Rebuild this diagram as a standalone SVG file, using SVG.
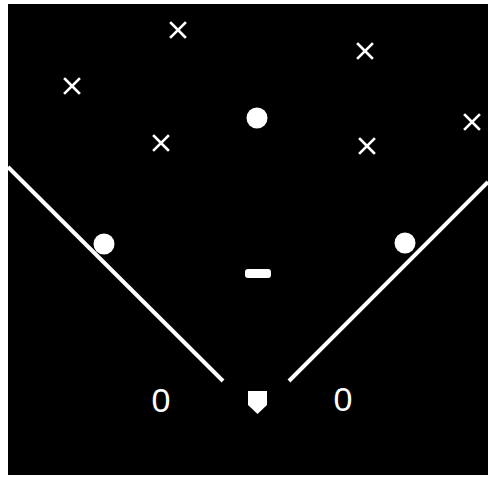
<svg xmlns="http://www.w3.org/2000/svg" xmlns:xlink="http://www.w3.org/1999/xlink" width="488" height="477" viewBox="0 0 488 477">
<style>
.line{stroke:#fff;stroke-width:4;stroke-linecap:butt;fill:none}
.dot{fill:#fff}
.lbl{font-family:"Liberation Sans",Arial,sans-serif;font-size:34px;fill:#fff;text-anchor:middle}
</style>
<defs>
<g id="xm"><path d="M-7,-7L7,7M7,-7L-7,7" stroke="#fff" stroke-width="2.6" stroke-linecap="square"/></g>
</defs>
<rect width="488" height="477" fill="#fff"/>
<rect x="8" y="4" width="480" height="471" fill="#000"/>
<g id="foul-lines">
<line class="line" x1="8" y1="167" x2="223" y2="381"/>
<line class="line" x1="289" y1="381" x2="488" y2="182"/>
</g>
<g id="fielders">
<use xlink:href="#xm" x="178" y="30"/>
<use xlink:href="#xm" x="72" y="86"/>
<use xlink:href="#xm" x="365" y="51"/>
<use xlink:href="#xm" x="472" y="122"/>
<use xlink:href="#xm" x="161" y="143"/>
<use xlink:href="#xm" x="367" y="146"/>
</g>
<g id="bases">
<circle id="second" class="dot" cx="257" cy="118" r="10.5"/>
<circle id="third" class="dot" cx="104" cy="244" r="10.5"/>
<circle id="first" class="dot" cx="405" cy="243" r="10.5"/>
<rect id="mound" class="dot" x="245" y="269" width="26" height="9" rx="3"/>
<path id="home" class="dot" d="M248,391H267V405L257.5,414L248,405Z"/>
</g>
<g id="runners">
<text class="lbl" x="161" y="412">0</text>
<text class="lbl" x="343" y="411">0</text>
</g>
</svg>
